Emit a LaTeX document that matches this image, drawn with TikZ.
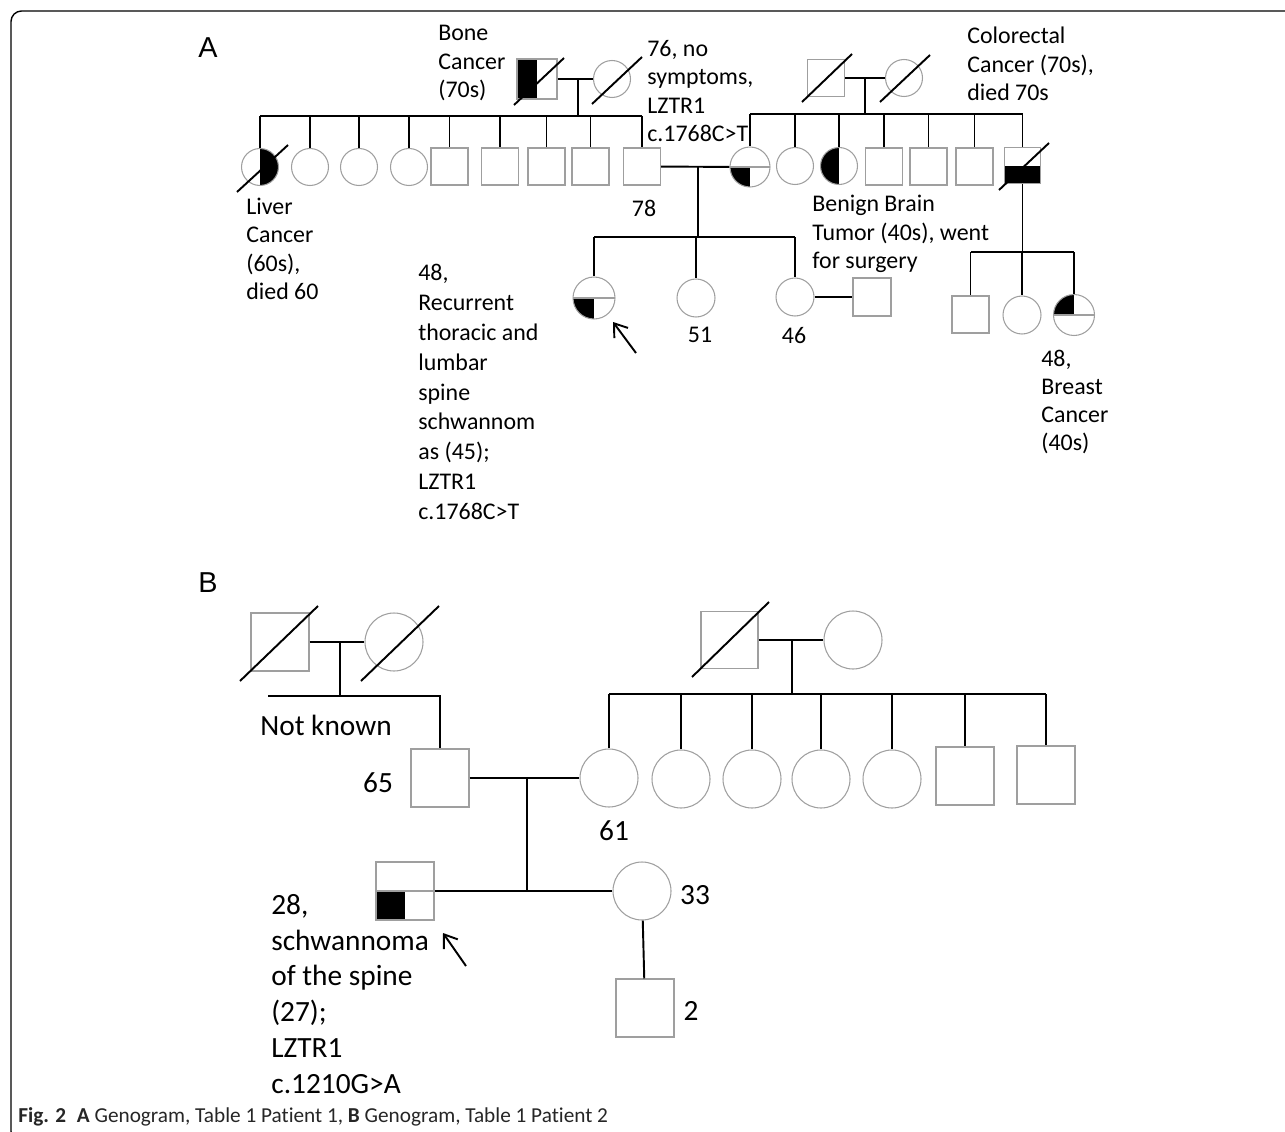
\documentclass[tikz,border=0pt]{standalone}
\usepackage{fontspec}
\setmainfont{Carlito}[Ligatures=NoCommon]
\newfontfamily\panelfont{Liberation Sans}
\usepackage{tikz}
\usetikzlibrary{arrows.meta,positioning,calc}

\begin{document}
\begin{tikzpicture}[
    x=0.02cm, y=-0.02cm,
    >={Straight Barb[length=2.4mm,width=3.4mm]},
    sym/.style={draw=gray!75, line width=0.6pt, inner sep=0pt},
    male/.style={sym, rectangle, minimum size=#1},
    male/.default=0.74cm,
    female/.style={sym, circle, minimum size=#1},
    female/.default=0.74cm,
    link/.style={line width=1.1pt},
    dead/.style={line width=1.1pt},
    lab/.style={font=\fontsize{13.6}{16.2}\selectfont, align=left, anchor=west, inner sep=0pt},
    labB/.style={font=\fontsize{16.7}{20.4}\selectfont, align=left, anchor=west, inner sep=0pt},
    panel/.style={font=\panelfont\fontsize{16.4}{18}\selectfont, inner sep=0pt},
    halfL/.style={path picture={\fill (path picture bounding box.south west) rectangle (path picture bounding box.north);}},
    halfR/.style={path picture={\fill (path picture bounding box.south) rectangle (path picture bounding box.north east);}},
    lowhalf/.style={path picture={\fill (path picture bounding box.south west) rectangle (path picture bounding box.east);}},
    quadLL/.style={path picture={\fill (path picture bounding box.south west) rectangle (path picture bounding box.center);
        \draw[gray!75, line width=0.6pt] (path picture bounding box.west) -- (path picture bounding box.east);}},
    quadUL/.style={path picture={\fill (path picture bounding box.west) rectangle (path picture bounding box.north);
        \draw[gray!75, line width=0.6pt] (path picture bounding box.west) -- (path picture bounding box.east);}},
  ]
  \useasboundingbox (0,0) rectangle (1285,1132);
  % Frame
  \draw[line width=0.8pt, rounded corners=6pt] (1300,11) -- (11,11) -- (11,1142) -- (40,1142);

  % Panel A
  \node[panel] (lblA) at (208,48) {A};

  % Paternal grandparents
  \node[male=0.8cm, halfL] (bcF) at (537,79) {};
  \node[female] (bcM) at (612,79) {};
  \draw[dead] ([shift={(-23,26)}]bcF.center) -- ([shift={(27,-21)}]bcF.center);
  \draw[dead] ([shift={(-20,25)}]bcM.center) -- ([shift={(30,-22)}]bcM.center);

  % Their children
  \node[female, halfR] (a1) at (260,167) {};
  \node[female] (a2) at (310,167) {};
  \node[female] (a3) at (359,167) {};
  \node[female] (a4) at (409,167) {};
  \node[male] (a5) at (449.5,166.5) {};
  \node[male] (a6) at (500,166.5) {};
  \node[male] (a7) at (546.5,166.5) {};
  \node[male] (a8) at (590.5,166.5) {};
  \node[male] (a9) at (642,166.5) {};
  \draw[dead] ([shift={(-23,25)}]a1.center) -- ([shift={(28,-22)}]a1.center);

  % Maternal grandparents
  \node[male] (rgF) at (826,78) {};
  \node[female] (rgM) at (904,78) {};
  \draw[dead] ([shift={(-24,24)}]rgF.center) -- ([shift={(26,-24)}]rgF.center);
  \draw[dead] ([shift={(-24,24)}]rgM.center) -- ([shift={(26,-23)}]rgM.center);

  \node[female=0.8cm, quadLL] (w78) at (750,167) {};
  \node[female] (b2) at (795,166) {};
  \node[female, halfL] (b3) at (839,166) {};
  \node[male] (b4) at (884,166.5) {};
  \node[male] (b5) at (928.5,166.5) {};
  \node[male] (b6) at (974.5,166.5) {};
  \node[male=0.72cm, lowhalf] (b7) at (1022.5,165.5) {};
  \draw[dead] ([shift={(-23.5,24.5)}]b7.center) -- ([shift={(26.5,-22.5)}]b7.center);

  % Third generation
  \node[female=0.84cm, quadLL] (pA) at (594,298) {};
  \node[female=0.76cm] (c51) at (696,298) {};
  \node[female=0.76cm] (c46) at (795,297) {};
  \node[male=0.76cm] (sq46) at (872,297) {};
  \node[male] (d1) at (970.5,314.5) {};
  \node[female=0.76cm] (d2) at (1022,315) {};
  \node[female=0.82cm, quadUL] (d3) at (1074,315) {};

  % Lines A
  \coordinate (mA1) at (578,79);
  \coordinate (sA1) at (578,116);
  \draw[link] (bcF) -- (bcM);
  \draw[link] (mA1) -- (sA1);
  \draw[link] (sA1 -| a1) -- (sA1 -| a9);
  \foreach \i in {1,...,9} \draw[link] (sA1 -| a\i) -- (a\i);

  \coordinate (mA3) at (865,78);
  \coordinate (sA3) at (865,114);
  \draw[link] (rgF) -- (rgM);
  \draw[link] (mA3) -- (sA3);
  \draw[link] (sA3 -| w78) -- (sA3 -| b7);
  \foreach \n in {w78,b2,b3,b4,b5,b6,b7} \draw[link] (sA3 -| \n) -- (\n);

  \coordinate (mA2) at (698,166.5);
  \coordinate (sA2) at (698,237);
  \draw[link] (a9) -- (w78);
  \draw[link] (mA2) -- (sA2);
  \draw[link] (sA2 -| pA) -- (sA2 -| c46);
  \foreach \n in {pA,c51,c46} \draw[link] (sA2 -| \n) -- (\n);
  \draw[link] (c46) -- (sq46);

  \coordinate (sA4) at (1022.5,252);
  \draw[link] (b7) -- (sA4);
  \draw[link] (sA4 -| d1) -- (sA4 -| d3);
  \foreach \n in {d1,d2,d3} \draw[link] (sA4 -| \n) -- (\n);

  \coordinate (arrA) at (636,353);
  \coordinate (tipA) at (613,322);
  \draw[->, line width=1.1pt] (arrA) -- (tipA);

  % Labels A
  \node[lab] (tBone) at (438,63) {Bone\\Cancer\\(70s)};
  \node[lab] (tNoSym) at (647,91) {76, no\\symptoms,\\LZTR1\\c.1768C>T};
  \node[lab] (tColo) at (967,64) {Colorectal\\Cancer (70s),\\died 70s};
  \node[lab] (tLiver) at (246,249) {Liver\\Cancer\\(60s),\\died 60};
  \node[lab, anchor=center] (t78) at (644,208) {78};
  \node[lab] (tBrain) at (812,234) {Benign Brain\\Tumor (40s), went\\for surgery};
  \node[lab, font=\fontsize{13.6}{17}\selectfont] (tProbA) at (418,392) {48,\\Recurrent\\thoracic and\\lumbar\\spine\\schwannom\\as (45);\\LZTR1\\c.1768C>T};
  \node[lab, anchor=center] (t51) at (700,335) {51};
  \node[lab, anchor=center] (t46) at (794,336) {46};
  \node[lab, font=\fontsize{13.6}{15.8}\selectfont] (tBreast) at (1041,402) {48,\\Breast\\Cancer\\(40s)};

  % Panel B
  \node[panel] (lblB) at (208,583) {B};

  \node[male=1.16cm] (bgF) at (280,642) {};
  \node[female=1.16cm] (bgM) at (394,642) {};
  \draw[dead] ([shift={(-40,39)}]bgF.center) -- ([shift={(38,-36)}]bgF.center);
  \draw[dead] ([shift={(-33,39)}]bgM.center) -- ([shift={(45,-36)}]bgM.center);

  \node[male=1.14cm] (mgF) at (729.5,640) {};
  \node[female=1.16cm] (mgM) at (853,640) {};
  \draw[dead] ([shift={(-37.5,37)}]mgF.center) -- ([shift={(39.5,-38)}]mgF.center);

  \node[male=1.16cm] (pF) at (440,778) {};
  \node[female=1.16cm] (pM) at (609,778) {};
  \node[female=1.16cm] (e2) at (681,779) {};
  \node[female=1.16cm] (e3) at (752,779) {};
  \node[female=1.16cm] (e4) at (821,779) {};
  \node[female=1.16cm] (e5) at (892,779) {};
  \node[male=1.16cm] (e6) at (965,776) {};
  \node[male=1.16cm] (e7) at (1046,775) {};

  \node[male=1.16cm, quadLL] (pB) at (405,891) {};
  \node[female=1.16cm] (w33) at (642,891) {};
  \node[male=1.16cm] (c2) at (645,1008) {};

  % Lines B
  \coordinate (mB1) at (340,642);
  \coordinate (sB1) at (340,696);
  \coordinate (nk) at (268,696);
  \draw[link] (bgF) -- (bgM);
  \draw[link] (mB1) -- (sB1);
  \draw[link] (nk) -- (sB1 -| pF) -- (pF);

  \coordinate (mB2) at (792,640);
  \coordinate (sB2) at (792,694);
  \draw[link] (mgF) -- (mgM);
  \draw[link] (mB2) -- (sB2);
  \draw[link] (sB2 -| pM) -- (sB2 -| e7);
  \foreach \n in {pM,e2,e3,e4,e5,e6,e7} \draw[link] (sB2 -| \n) -- (\n);

  \coordinate (mB3) at (527,778);
  \coordinate (sB3) at (527,891);
  \draw[link] (pF) -- (pM);
  \draw[link] (mB3) -- (sB3);
  \draw[link] (pB) -- (w33);
  \draw[link] (w33) -- (c2);

  \coordinate (arrB) at (466,966);
  \coordinate (tipB) at (443,933);
  \draw[->, line width=1.1pt] (arrB) -- (tipB);

  % Labels B
  \node[labB] (tNK) at (260,725) {Not known};
  \node[labB, anchor=center] (t65) at (378,783) {65};
  \node[labB, anchor=center] (t61) at (614,831) {61};
  \node[labB, anchor=center] (t33) at (695,895) {33};
  \node[labB, anchor=center] (t2) at (691,1011) {2};
  \node[labB] (tProbB) at (271,994) {28,\\schwannoma\\of the spine\\(27);\\LZTR1\\c.1210G>A};

  % Caption
  \node[anchor=west, inner sep=0pt, text=black!85, font=\fontsize{12.1}{13}\selectfont] (cap) at (18,1117)
    {\textbf{Fig. 2}\hspace{0.5em}\textbf{A} Genogram, Table 1 Patient 1, \textbf{B} Genogram, Table 1 Patient 2};
\end{tikzpicture}
\end{document}
